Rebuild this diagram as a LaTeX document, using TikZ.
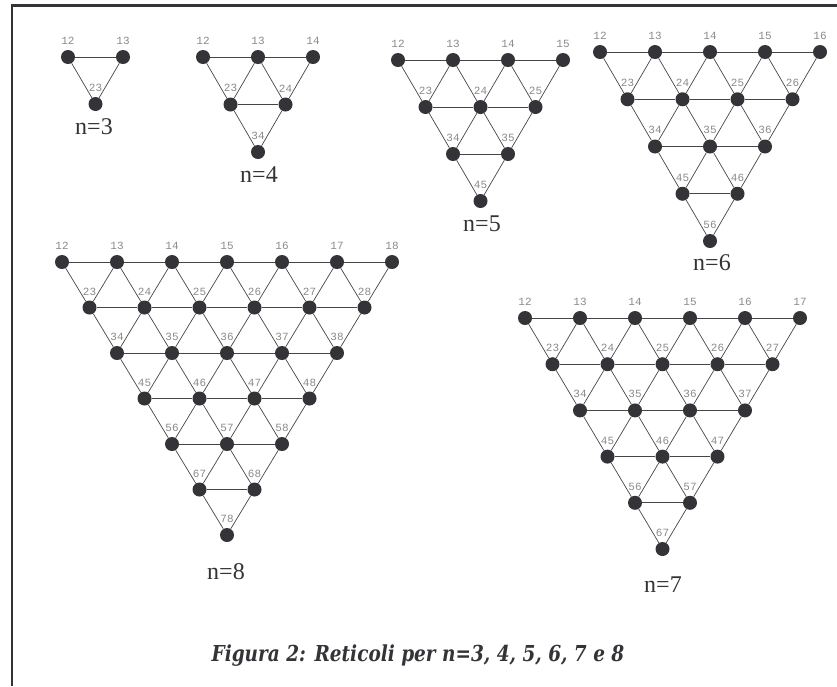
\documentclass[tikz,border=0pt]{standalone}
\usepackage{fontspec}
\setmainfont{Liberation Serif}
\newfontfamily\numfont{Liberation Mono}
\newfontfamily\capfont[FakeStretch=0.84]{DejaVu Serif}
\usetikzlibrary{positioning,calc}

\definecolor{dotgray}{HTML}{333338}
\definecolor{linegray}{HTML}{454545}
\definecolor{labgray}{HTML}{8A8A8A}

\tikzset{
  dot/.style={circle, fill=dotgray, minimum size=14pt, inner sep=0pt},
  idx/.style={font=\numfont\fontsize{11}{11}\selectfont, text=labgray, inner sep=0pt},
  link/.style={draw=linegray, line width=0.7pt},
  nlab/.style={font=\fontsize{24}{24}\selectfont, text=dotgray, inner sep=0pt},
  capt/.style={font=\capfont\bfseries\itshape\fontsize{22}{22}\selectfont, text=dotgray, inner sep=0pt},
}

% #1 name, #2 n, #3 x of node 12, #4 y of node 12, #5 row step
\newcommand{\reticolo}[5]{%
  \pgfmathtruncatemacro\nm{#2-1}
  \foreach \i in {1,...,\nm} {
    \pgfmathtruncatemacro\jst{\i+1}
    \foreach \j in {\jst,...,#2}
      \node[dot, label={[idx, label distance=5pt]above:\i\j}] (#1-\i\j)
        at ({#3+(\j-2)*55-(\i-1)*27.5}, {#4+(\i-1)*#5}) {};
  }
  \foreach \i in {1,...,\nm} {
    \pgfmathtruncatemacro\jst{\i+1}
    \pgfmathtruncatemacro\inx{\i+1}
    \foreach \j in {\jst,...,#2} {
      \pgfmathtruncatemacro\jn{\j+1}
      \ifnum\j<#2
        \draw[link] (#1-\i\j) -- (#1-\i\jn);
        \draw[link] (#1-\i\j) -- (#1-\inx\jn);
      \fi
      \ifnum\j>\jst
        \draw[link] (#1-\i\j) -- (#1-\inx\j);
      \fi
    }
  }
}

\begin{document}
\begin{tikzpicture}[x=1pt, y=-1pt]
  \useasboundingbox (0,0) rectangle (837,686);
  % frame
  \draw[dotgray, line width=2.5pt] (837,5.5) -- (12,5.5) -- (12,686);

  \reticolo{a}{3}{68}{57}{47}
  \reticolo{b}{4}{203}{57}{47.5}
  \reticolo{c}{5}{398}{60}{47}
  \reticolo{d}{6}{600}{52}{47.25}
  \reticolo{e}{7}{525}{318}{46.2}
  \reticolo{f}{8}{62}{262}{45.5}

  \node[nlab] (la) at (94,127) {n=3};
  \node[nlab] (lb) at (259,175) {n=4};
  \node[nlab] (lc) at (482,224) {n=5};
  \node[nlab] (ld) at (712,263) {n=6};
  \node[nlab] (le) at (663,585) {n=7};
  \node[nlab] (lf) at (226,572) {n=8};

  \node[capt] (caption) at (418,656) {Figura 2: Reticoli per n=3, 4, 5, 6, 7 e 8};
\end{tikzpicture}
\end{document}
